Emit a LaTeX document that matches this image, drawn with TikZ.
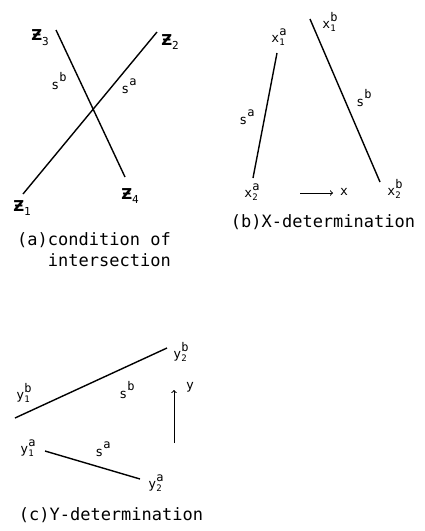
\documentclass[tikz,border=0pt]{standalone}
\usepackage{fontspec}
\setmainfont{DejaVu Sans Mono}
\newfontfamily\zfont{DejaVu Sans}
\newcommand\lbl[3]{#1\rlap{\raisebox{-0.45ex}{\fontsize{9}{9}\selectfont #2}}\raisebox{1.05ex}{\fontsize{12}{12}\selectfont #3}}
\newcommand\slbl[1]{s\raisebox{1.05ex}{\fontsize{12}{12}\selectfont #1}}
\newcommand\zlbl[1]{{\zfont\bfseries Ƶ}\raisebox{-0.6ex}{\fontsize{11}{11}\selectfont #1}}
\begin{document}
\begin{tikzpicture}[x=1pt, y=-1pt,
        seg/.style={line width=1.4pt},
        tag/.style={inner sep=0pt, font=\fontsize{13}{15}\selectfont},
        ztag/.style={inner sep=0pt, font=\fontsize{15}{17}\selectfont},
        caption/.style={inner sep=0pt, font=\fontsize{17}{21}\selectfont}]
        \useasboundingbox (0,0) rectangle (425,531);

        \coordinate (z1) at (23,194);
        \coordinate (z2) at (157,32);
        \coordinate (z3) at (56,30);
        \coordinate (z4) at (125,177);
        \node[ztag] (lz1) at (22,208) {\zlbl{1}};
        \node[ztag] (lz2) at (170,42) {\zlbl{2}};
        \node[ztag] (lz3) at (40,38) {\zlbl{3}};
        \node[ztag] (lz4) at (130,196) {\zlbl{4}};
        \node[tag] (asb) at (59,81) {\slbl{b}};
        \node[tag] (asa) at (129,86) {\slbl{a}};
        \node[caption, align=right] (capa) at (94,250) {(a)condition of\\intersection};

        \draw[seg] (z1) -- (z2);
        \draw[seg] (z3) -- (z4);

        \coordinate (xa1) at (277,53);
        \coordinate (xa2) at (253,178);
        \coordinate (xb1) at (310,19);
        \coordinate (xb2) at (380,182);
        \coordinate (xtail) at (300,193);
        \coordinate (xhead) at (333,193);
        \node[tag] (lxa1) at (279,37) {\lbl{x}{1}{a}};
        \node[tag] (lxb1) at (330,22) {\lbl{x}{1}{b}};
        \node[tag] (lxa2) at (252,192) {\lbl{x}{2}{a}};
        \node[tag] (lxb2) at (395,189) {\lbl{x}{2}{b}};
        \node[tag] (bsa) at (247,117) {\slbl{a}};
        \node[tag] (bsb) at (364,98) {\slbl{b}};
        \node[tag] (xdir) at (344,192) {x};
        \node[caption] (capb) at (323,222) {(b)X-determination};

        \draw[seg] (xa1) -- (xa2);
        \draw[seg] (xb1) -- (xb2);
        \draw[line width=1pt, ->] (xtail) -- (xhead);

        \coordinate (yb1) at (15,418);
        \coordinate (yb2) at (167,348);
        \coordinate (ya1) at (45,451);
        \coordinate (ya2) at (140,479);
        \coordinate (ytail) at (174,443);
        \coordinate (yhead) at (174,390);
        \node[tag] (lyb1) at (24,393) {\lbl{y}{1}{b}};
        \node[tag] (lyb2) at (181,352) {\lbl{y}{2}{b}};
        \node[tag] (lya1) at (28,448) {\lbl{y}{1}{a}};
        \node[tag] (lya2) at (156,483) {\lbl{y}{2}{a}};
        \node[tag] (csb) at (127,390) {\slbl{b}};
        \node[tag] (csa) at (103,449) {\slbl{a}};
        \node[tag] (ydir) at (190,387) {y};
        \node[caption] (capc) at (111,515) {(c)Y-determination};

        \draw[seg] (yb1) -- (yb2);
        \draw[seg] (ya1) -- (ya2);
        \draw[line width=1pt, ->] (ytail) -- (yhead);

    \end{tikzpicture}
\end{document}
